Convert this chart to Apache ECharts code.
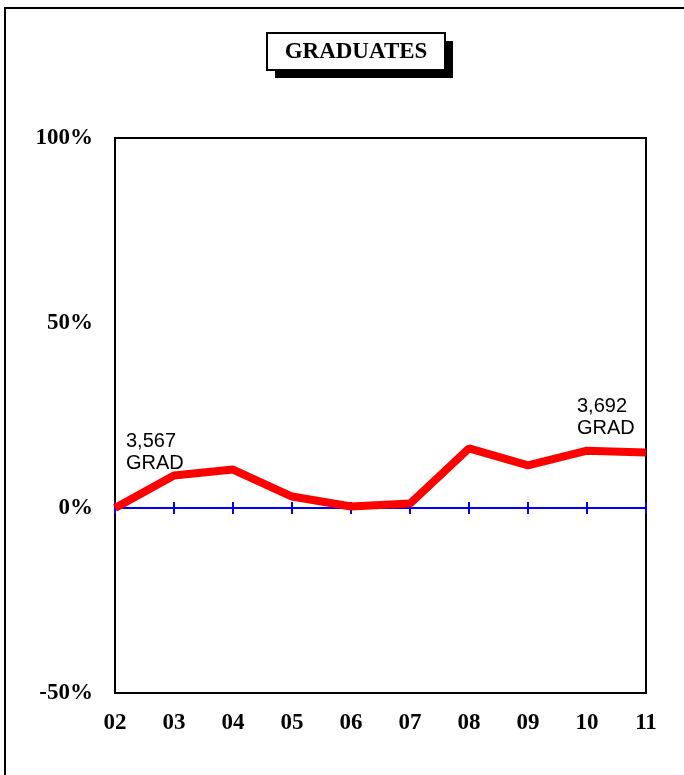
<!DOCTYPE html>
<html>
<head>
<meta charset="utf-8">
<script src="https://cdn.jsdelivr.net/npm/echarts@6/dist/echarts.min.js"></script>
<style>
  html, body { margin: 0; padding: 0; background: #fff; }
  #chart { width: 684px; height: 775px; }
</style>
</head>
<body>
<div id="chart"></div>
<script>
// year labels on the x axis
var years = ['02', '03', '04', '05', '06', '07', '08', '09', '10', '11']
// percent change of graduates
var gradPct = [0, 8.8, 10.4, 3.1, 0.4, 1.2, 16.1, 11.5, 15.5, 15.0]
// callouts: index -> text
var noteIdx = [0, 8]
var noteText = ['3,567\nGRAD', '3,692\nGRAD']
var noteOffset = [[11, -28], [-10, -6]]

var serifBold = {
  fontFamily: '"Liberation Serif", "Times New Roman", serif',
  fontWeight: 'bold',
  fontSize: 23,
  color: '#000'
}

var seriesData = gradPct.map(function (v, i) {
  var k = noteIdx.indexOf(i)
  if (k < 0) return v
  return {
    value: v,
    label: {
      show: true,
      position: 'top',
      align: 'left',
      verticalAlign: 'bottom',
      offset: noteOffset[k],
      formatter: noteText[k],
      fontFamily: '"Liberation Sans", Arial, sans-serif',
      fontSize: 20,
      lineHeight: 22,
      color: '#000'
    }
  }
})

// blue zero axis, ticks drawn both sides of the line
function zeroAxis(inside) {
  return {
    type: 'category',
    data: years,
    boundaryGap: false,
    position: 'bottom',
    axisLine: {
      show: true,
      onZero: true,
      onZeroAxisIndex: 0,
      lineStyle: { color: '#0000ff', width: 2 }
    },
    axisTick: { show: true, inside: inside, length: 6, lineStyle: { color: '#0000ff', width: 2 } },
    axisLabel: { show: false },
    splitLine: { show: false }
  }
}

var chart = echarts.init(document.getElementById('chart'))
var option = {
  backgroundColor: '#fff',
  animation: false,
  graphic: [{
    type: 'rect',
    shape: { x: 5, y: 8, width: 760, height: 820 },
    style: { fill: 'none', stroke: '#000', lineWidth: 2 },
    silent: true,
    z: -1
  }, {
    type: 'rect',
    shape: { x: 275, y: 41, width: 178, height: 37 },
    style: { fill: '#000' },
    silent: true
  }, {
    type: 'rect',
    shape: { x: 267, y: 33, width: 178, height: 37 },
    style: { fill: '#fff', stroke: '#000', lineWidth: 2 },
    silent: true
  }, {
    type: 'text',
    x: 356,
    y: 52,
    style: {
      text: 'GRADUATES',
      align: 'center',
      verticalAlign: 'middle',
      font: 'bold 23px "Liberation Serif", "Times New Roman", serif',
      fill: '#000'
    },
    silent: true
  }],
  grid: {
    left: 115,
    right: 38,
    top: 138,
    bottom: 82,
    show: true,
    borderColor: '#000',
    borderWidth: 2,
    backgroundColor: 'transparent'
  },
  xAxis: [{
    type: 'category',
    data: years,
    boundaryGap: false,
    position: 'bottom',
    axisLine: { show: false, onZero: false },
    axisTick: { show: false },
    axisLabel: Object.assign({ margin: 19 }, serifBold),
    splitLine: { show: false }
  }, zeroAxis(true), zeroAxis(false)],
  yAxis: {
    type: 'value',
    min: -50,
    max: 100,
    interval: 50,
    axisLine: { show: false },
    axisTick: { show: false },
    splitLine: { show: false },
    axisLabel: Object.assign({ margin: 22, formatter: '{value}%' }, serifBold)
  },
  series: [{
    type: 'line',
    xAxisIndex: 0,
    data: seriesData,
    symbol: 'circle',
    symbolSize: 1,
    itemStyle: { color: '#ff0000' },
    lineStyle: { color: '#ff0000', width: 8 },
    z: 5
  }]
}
chart.setOption(option)
</script>
</body>
</html>
